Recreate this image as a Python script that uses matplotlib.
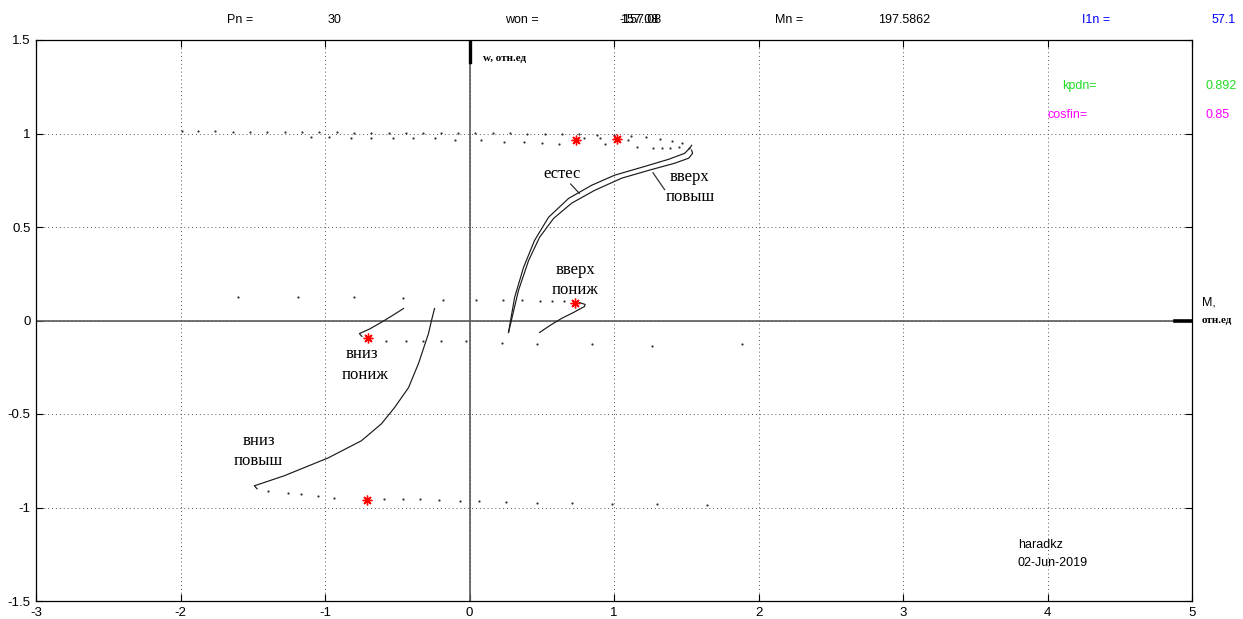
import matplotlib

matplotlib.use("Agg")
import matplotlib.pyplot as plt

# --- solid parts of the characteristics (M, w in relative units) ---
nat_m = [0.27, 0.312, 0.374, 0.45, 0.547, 0.686, 0.845, 1.004, 1.191, 1.378, 1.489, 1.53, 1.537]
nat_w = [-0.064, 0.123, 0.284, 0.428, 0.552, 0.653, 0.723, 0.777, 0.819, 0.862, 0.894, 0.927, 0.937]

up_hi_m = [0.27, 0.339, 0.409, 0.485, 0.582, 0.706, 0.866, 1.053, 1.24, 1.42, 1.517, 1.544, 1.537]
up_hi_w = [-0.064, 0.161, 0.321, 0.445, 0.546, 0.627, 0.696, 0.761, 0.803, 0.841, 0.868, 0.894, 0.911]

up_lo_m = [0.485, 0.56, 0.637, 0.72, 0.796, 0.80, 0.76]
up_lo_w = [-0.064, -0.025, 0.011, 0.043, 0.075, 0.086, 0.096]

dn_lo_m = [-0.457, -0.52, -0.60, -0.69, -0.762, -0.745]
dn_lo_w = [0.064, 0.033, -0.005, -0.045, -0.070, -0.085]

dn_hi_m = [-0.242, -0.263, -0.284, -0.353, -0.422, -0.519, -0.609, -0.748, -0.976, -1.281, -1.489, -1.47]
dn_hi_w = [0.064, 0.0, -0.070, -0.230, -0.359, -0.466, -0.552, -0.643, -0.734, -0.830, -0.884, -0.90]

# --- sparsely sampled tails of the same characteristics ---
nat_tail_m = [1.47, 1.40, 1.32, 1.22, 1.12, 1.00, 0.88, 0.76, 0.64, 0.52, 0.40, 0.28, 0.16, 0.04,
              -0.08, -0.20, -0.32, -0.44, -0.56, -0.68, -0.80, -0.92, -1.04, -1.16, -1.28, -1.40,
              -1.52, -1.64, -1.76, -1.88, -1.99]
nat_tail_w = [0.95, 0.96, 0.97, 0.98, 0.985, 0.99, 0.99, 0.995, 1.0, 1.0, 1.0, 1.005, 1.005, 1.005,
              1.005, 1.005, 1.005, 1.005, 1.005, 1.005, 1.005, 1.008, 1.008, 1.008, 1.008, 1.01,
              1.01, 1.01, 1.012, 1.012, 1.012]

up_hi_tail_m = [1.517, 1.447, 1.385, 1.33, 1.27, 1.157, 1.10, 0.935, 0.90, 0.79, 0.616, 0.499,
                0.374, 0.242, 0.083, -0.10, -0.24, -0.39, -0.53, -0.68, -0.82, -0.97, -1.10]
up_hi_tail_w = [0.925, 0.927, 0.92, 0.92, 0.92, 0.927, 0.964, 0.943, 0.975, 0.975, 0.943, 0.948,
                0.953, 0.953, 0.964, 0.965, 0.975, 0.975, 0.975, 0.975, 0.975, 0.98, 0.98]

up_lo_tail_m = [0.651, 0.568, 0.485, 0.36, 0.235, 0.048, -0.18, -0.457, -0.796, -1.184, -1.60]
up_lo_tail_w = [0.102, 0.102, 0.102, 0.107, 0.107, 0.112, 0.112, 0.118, 0.123, 0.123, 0.123]

dn_lo_tail_m = [-0.575, -0.436, -0.319, -0.194, -0.021, 0.222, 0.464, 0.845, 1.26, 1.884]
dn_lo_tail_w = [-0.107, -0.107, -0.107, -0.107, -0.107, -0.118, -0.123, -0.128, -0.134, -0.128]

dn_hi_tail_m = [-1.392, -1.253, -1.163, -1.046, -0.94, -0.589, -0.457, -0.346, -0.208, -0.069,
                0.069, 0.256, 0.464, 0.706, 0.983, 1.295, 1.641]
dn_hi_tail_w = [-0.911, -0.921, -0.927, -0.937, -0.948, -0.953, -0.953, -0.953, -0.959, -0.964,
                -0.964, -0.97, -0.975, -0.975, -0.98, -0.98, -0.985]

# operating points
star_m = [0.74, 1.02, 0.73, -0.70, -0.71]
star_w = [0.964, 0.97, 0.096, -0.096, -0.96]

# curve captions: (text, M, w)
captions = [
    ("естес", 0.64, 0.782),
    ("вверх", 1.52, 0.77),
    ("повыш", 1.525, 0.662),
    ("вверх", 0.737, 0.271),
    ("пониж", 0.73, 0.164),
    ("вниз", -0.744, -0.178),
    ("пониж", -0.723, -0.29),
    ("вниз", -1.457, -0.643),
    ("повыш", -1.463, -0.75),
]

# header line: (text, x in figure pixels, colour)
header = [
    ("Pn =", 227, "black"),
    ("30", 328, "black"),
    ("won =", 505, "black"),
    ("157.08", 620, "black"),
    ("-157.08", 620, "black"),
    ("Mn =", 775, "black"),
    ("197.5862", 878, "black"),
    ("I1n =", 1082, "blue"),
    ("57.1", 1212, "blue"),
]

x_ticks = [-3, -2, -1, 0, 1, 2, 3, 4, 5]
y_ticks = [-1.5, -1, -0.5, 0, 0.5, 1, 1.5]

SANS = "Liberation Sans"
SERIF = "Liberation Serif"


def main() -> None:
    plt.rcParams.update({"font.family": SANS})
    fig = plt.figure(figsize=(12.43, 6.19), dpi=100)
    ax = fig.add_axes([36 / 1243, 1 - 601 / 619, 1156 / 1243, 561 / 619])

    ax.set_xlim(-3, 5)
    ax.set_ylim(-1.5, 1.5)
    ax.set_xticks(x_ticks)
    ax.set_yticks(y_ticks)
    ax.set_xticklabels([str(t) for t in x_ticks])
    ax.set_yticklabels(["-1.5", "-1", "-0.5", "0", "0.5", "1", "1.5"])
    ax.tick_params(direction="in", top=True, right=True, length=5, width=0.8,
                   labelsize=9.5, pad=4)
    ax.grid(True, color="#555555", linestyle=(0, (1, 3)), linewidth=0.7)
    for sp in ax.spines.values():
        sp.set_linewidth(0.9)

    # coordinate axes with arrows
    ax.plot([-3, 4.9], [0, 0], color="#5a5a5a", lw=1.2, zorder=2)
    ax.plot([4.88, 4.99], [0, 0], color="black", lw=2.6, zorder=3)
    ax.plot([0, 0], [-1.5, 1.4], color="#5a5a5a", lw=1.2, zorder=2)
    ax.plot([0, 0], [1.38, 1.5], color="black", lw=2.4, zorder=3)

    for m, w in [(nat_m, nat_w), (up_hi_m, up_hi_w), (up_lo_m, up_lo_w),
                 (dn_lo_m, dn_lo_w), (dn_hi_m, dn_hi_w)]:
        ax.plot(m, w, color="#1a1a1a", lw=0.85, zorder=4)

    for m, w in [(nat_tail_m, nat_tail_w), (up_hi_tail_m, up_hi_tail_w),
                 (up_lo_tail_m, up_lo_tail_w), (dn_lo_tail_m, dn_lo_tail_w),
                 (dn_hi_tail_m, dn_hi_tail_w)]:
        ax.plot(m, w, linestyle="none", marker="o", markersize=1.6,
                markeredgewidth=0, color="#333333", zorder=4)

    ax.plot(star_m, star_w, linestyle="none", marker=(8, 2, 0), markersize=7,
            markeredgewidth=1.0, color="red", zorder=5)

    # leader lines from captions to curves
    ax.plot([0.70, 0.76], [0.73, 0.68], color="#333333", lw=0.9)
    ax.plot([1.27, 1.35], [0.79, 0.70], color="#333333", lw=0.9)

    for text, m, w in captions:
        ax.text(m, w, text, family=SERIF, fontsize=12, ha="center", va="center")

    ax.text(0.093, 1.40, "w, отн.ед", family=SERIF, fontsize=8, fontweight="bold",
            ha="left", va="center")
    ax.text(5.07, 0.095, "M,", family=SANS, fontsize=9, ha="left", va="center",
            clip_on=False)
    ax.text(5.07, 0.0, "отн.ед", family=SERIF, fontsize=8, fontweight="bold",
            ha="left", va="center", clip_on=False)

    ax.text(3.80, -1.20, "haradkz", fontsize=9, ha="left", va="center")
    ax.text(3.79, -1.297, "02-Jun-2019", fontsize=9, ha="left", va="center")

    # efficiency and power factor
    ax.text((1062 - 469.5) / 144.5, (320.7 - 86) / 186.9, "kpdn=", color="#22dd22",
            fontsize=9, ha="left", va="center")
    ax.text((1048 - 469.5) / 144.5, (320.7 - 115) / 186.9, "cosfin=", color="#ff00ff",
            fontsize=9, ha="left", va="center")
    fig.text(1206 / 1243, 1 - 86 / 619, "0.892", color="#22dd22", fontsize=9,
             ha="left", va="center")
    fig.text(1206 / 1243, 1 - 115 / 619, "0.85", color="#ff00ff", fontsize=9,
             ha="left", va="center")

    for text, px, col in header:
        fig.text(px / 1243, 1 - 20 / 619, text, color=col, fontsize=9,
                 ha="left", va="center")

    fig.savefig("out.png", dpi=100)


if __name__ == "__main__":
    main()
